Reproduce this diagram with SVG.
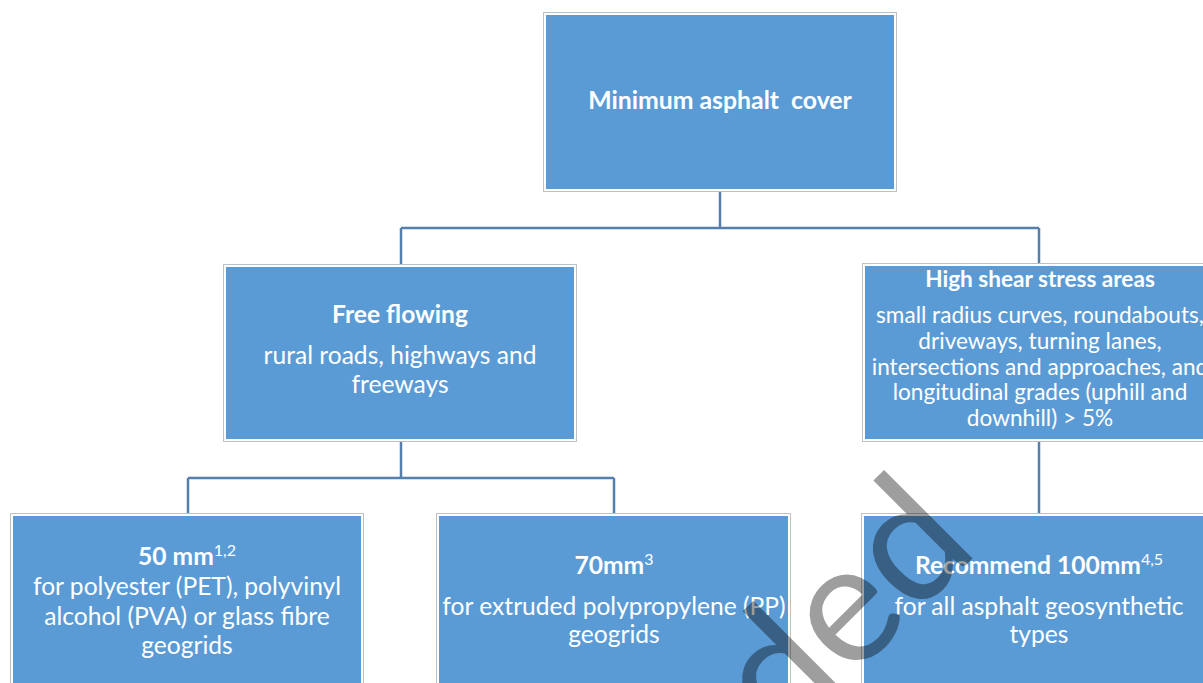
<svg xmlns="http://www.w3.org/2000/svg" width="1203" height="683" viewBox="0 0 1203 683">
  <style>
    .outer { fill: #ffffff; stroke: #c0c0c0; stroke-width: 1; }
    .inner { fill: #5b9bd5; }
    .conn { fill: none; stroke: #5580ad; stroke-width: 2.5; }
    .t { font-family: Lato, "Liberation Sans", sans-serif; fill: #ffffff; text-anchor: middle; }
    .b { font-weight: bold; }
    .m { font-size: 24.6px; }
    .s { font-size: 22.6px; }
    .sup { font-size: 16px; font-weight: normal; }
    .wm { font-family: Lato, "Liberation Sans", sans-serif; font-size: 170px; fill: #000000; fill-opacity: 0.38; text-anchor: end; }
  </style>
  <rect width="1203" height="683" fill="#ffffff"/>

  <g id="connectors">
    <path class="conn" d="M720 192 V228 M401 228 H1039 M401 228 V264 M1039 228 V263"/>
    <path class="conn" d="M401 442 V478 M188 478 H614 M188 478 V513 M614 478 V514"/>
    <path class="conn" d="M1039 442 V513"/>
  </g>

  <g id="node-top">
    <rect class="outer" x="543.5" y="12.5" width="353" height="179"/>
    <rect class="inner" x="546" y="15" width="348" height="174"/>
    <text class="t b" x="720" y="109" font-size="24.8" xml:space="preserve">Minimum asphalt  cover</text>
  </g>

  <g id="node-free">
    <rect class="outer" x="223.5" y="264.5" width="353" height="177"/>
    <rect class="inner" x="226" y="267" width="348" height="172"/>
    <text class="t b m" x="400" y="323">Free flowing</text>
    <text class="t m" x="400" y="364">rural roads, highways and</text>
    <text class="t m" x="400" y="393">freeways</text>
  </g>

  <g id="node-high">
    <rect class="outer" x="862.5" y="263.5" width="354" height="178"/>
    <rect class="inner" x="865" y="266" width="349" height="173"/>
    <text class="t b s" x="1040" y="287">High shear stress areas</text>
    <text class="t s" x="1040" y="323">small radius curves, roundabouts,</text>
    <text class="t s" x="1040" y="349">driveways, turning lanes,</text>
    <text class="t s" x="1040" y="375">intersections and approaches, and</text>
    <text class="t s" x="1040" y="400">longitudinal grades (uphill and</text>
    <text class="t s" x="1040" y="426">downhill) &gt; 5%</text>
  </g>

  <g id="node-50">
    <rect class="outer" x="10.5" y="513.5" width="353" height="178"/>
    <rect class="inner" x="13" y="516" width="348" height="173"/>
    <text class="t m" x="187" y="565"><tspan class="b">50 mm</tspan><tspan class="sup" dy="-9">1,2</tspan></text>
    <text class="t m" x="187" y="595">for polyester (PET), polyvinyl</text>
    <text class="t m" x="187" y="625">alcohol (PVA) or glass fibre</text>
    <text class="t m" x="187" y="654">geogrids</text>
  </g>

  <g id="node-70">
    <rect class="outer" x="436.5" y="513.5" width="354" height="178"/>
    <rect class="inner" x="439" y="516" width="349" height="173"/>
    <text class="t m" x="614" y="574"><tspan class="b">70mm</tspan><tspan class="sup" dy="-9">3</tspan></text>
    <text class="t m" x="614" y="615">for extruded polypropylene (PP)</text>
    <text class="t m" x="614" y="643">geogrids</text>
  </g>

  <g id="node-100">
    <rect class="outer" x="861.5" y="513.5" width="354" height="178"/>
    <rect class="inner" x="864" y="516" width="349" height="173"/>
    <text class="t b m" x="1039" y="574">Recommend 100mm<tspan class="sup b" dy="-9" font-weight="bold">4,5</tspan></text>
    <text class="t m" x="1039" y="615">for all asphalt geosynthetic</text>
    <text class="t m" x="1039" y="643">types</text>
  </g>

  <text class="wm" transform="translate(981,550) rotate(-45)">Superseded</text>
</svg>
